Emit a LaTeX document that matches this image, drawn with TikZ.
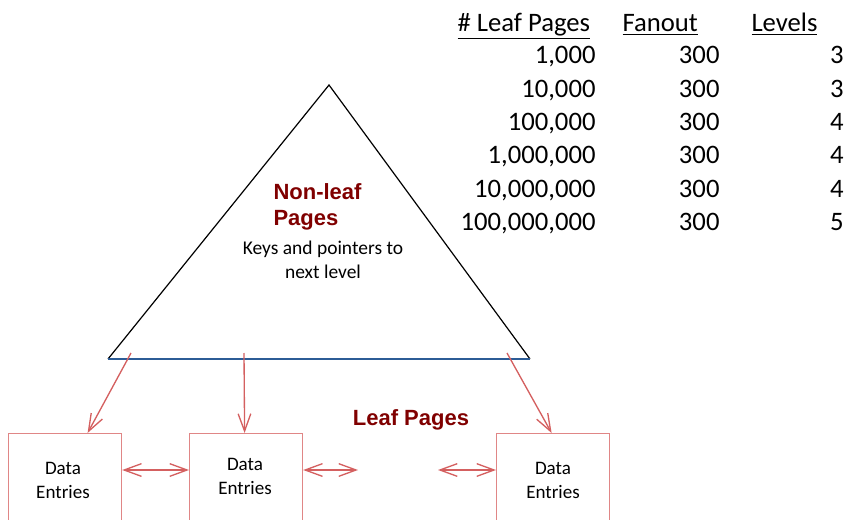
\documentclass[tikz,border=0pt]{standalone}
\usepackage{fontspec}
\setmainfont{Carlito}
\newfontfamily\headfont{Liberation Sans}
\usetikzlibrary{arrows.meta,calc}

\definecolor{leafred}{RGB}{128,0,0}
\definecolor{linkred}{RGB}{212,96,96}
\definecolor{boxred}{RGB}{224,134,134}
\definecolor{baseblue}{RGB}{44,92,150}

\tikzset{every picture/.style={line width=0.75pt}}
\tikzset{
  leafbox/.style={draw=boxred, line width=0.9pt, minimum width=84.75pt, minimum height=90pt, inner sep=0pt, anchor=north west},
  entry/.style={anchor=base, align=center, inner sep=0pt, font=\fontsize{14.3pt}{17.5pt}\selectfont},
  pointer/.style={draw=linkred, line width=1pt, -{Straight Barb[length=13pt,width=9.5pt]}},
  sibling/.style={draw=linkred, line width=1pt, {Straight Barb[length=13pt,width=9.5pt]}-{Straight Barb[length=13pt,width=9.5pt]}},
  title/.style={text=leafred, inner sep=0pt, font=\headfont\bfseries\fontsize{16.5pt}{19.5pt}\selectfont},
  cell/.style={anchor=base east, inner sep=0pt, font=\fontsize{20pt}{24pt}\selectfont},
  colhead/.style={anchor=base west, inner sep=0pt, font=\fontsize{20pt}{24pt}\selectfont}
}

\begin{document}
\begin{tikzpicture}[x=0.75pt,y=0.75pt,yscale=-1,xscale=1]
	\useasboundingbox (0,0) rectangle (848,520);
	\clip (0,0) rectangle (848,520);
	
	%Shape: Triangle (non-leaf pages)
	\draw [line width=0.9pt] (108,359) -- (329,85) -- (530,359) ;
	\draw [color=baseblue, line width=1.2pt] (108,359) -- (530,359) ;
	\coordinate (p1) at (131,353) ;
	\coordinate (p2) at (244,353) ;
	\coordinate (p3) at (507,353) ;
	
	% Text Node
	\node [title, anchor=base west, align=left] (nonleaf) at (273,225) {Non-leaf\\Pages};
	% Text Node
	\node [anchor=base, align=center, inner sep=0pt, font=\fontsize{14.6pt}{18pt}\selectfont] (keys) at (323,278) {Keys and pointers to\\next level};
	
	%Shape: Leaf boxes
	\node [leafbox] (b1) at (8,433) {};
	\node [leafbox] (b2) at (189,433) {};
	\node [leafbox] (b3) at (496,433) {};
	\node [entry] (e1) at (63,498) {Data\\Entries};
	\node [entry] (e2) at (245,494) {Data\\Entries};
	\node [entry] (e3) at (553,498) {Data\\Entries};
	
	% Text Node
	\node [title, anchor=base] (leaf) at (411,425) {Leaf Pages};
	
	%Straight Lines: pointers
	\draw [pointer] (p1) -- ($(b1.north)+(22.5,0)$) ;
	\draw [pointer] (p2) -- ($(b2.north)+(-1.5,0)$) ;
	\draw [pointer] (p3) -- ($(b3.north)+(-1.5,0)$) ;
	
	%Straight Lines: siblings
	\coordinate (gapl) at (358,470) ;
	\coordinate (gapr) at (438,470) ;
	\draw [sibling] ($(b1.north east)+(0,37)$) -- ($(b2.north west)+(0,37)$) ;
	\draw [sibling] ($(b2.north east)+(0,37)$) -- (gapl) ;
	\draw [sibling] (gapr) -- ($(b3.north west)+(0,37)$) ;
	
	% Table
	\node [colhead] (h1) at (457,32) {\underline{\# Leaf Pages}};
	\node [colhead] (h2) at (622,32) {\underline{Fanout}};
	\node [colhead] (h3) at (751,32) {\underline{Levels}};
	\foreach \n/\f/\l [count=\i] in {{1,000}/300/3, {10,000}/300/3, {100,000}/300/4, {1,000,000}/300/4, {10,000,000}/300/4, {100,000,000}/300/5} {
		\node [cell] (n\i) at (596,30.7+33.3*\i) {\n};
		\node [cell] (f\i) at (720,30.7+33.3*\i) {\f};
		\node [cell] (l\i) at (844,30.7+33.3*\i) {\l};
	}
	
\end{tikzpicture}
\end{document}
